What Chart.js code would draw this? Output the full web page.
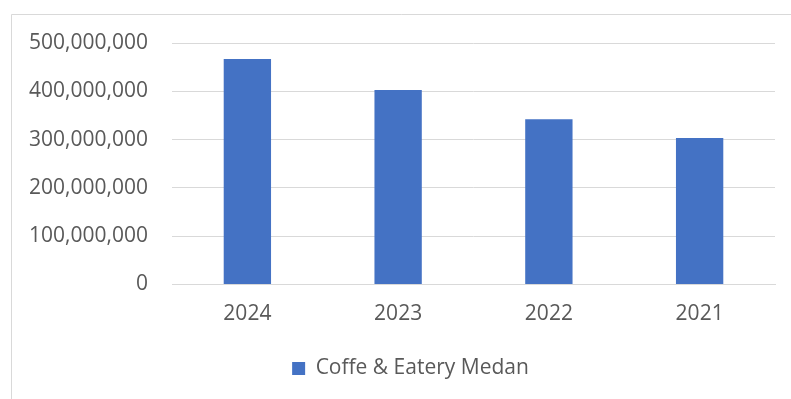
<!DOCTYPE html>
<html>
<head>
<meta charset="utf-8">
<script src="https://cdn.jsdelivr.net/npm/chart.js@4/dist/chart.umd.min.js"></script>
<style>
  html, body { margin: 0; padding: 0; background: #ffffff; }
  #wrap { position: relative; width: 791px; height: 399px; }
</style>
</head>
<body>
<div id="wrap"><canvas id="c" width="791" height="399"></canvas></div>
<script>
const categories = ["2024", "2023", "2022", "2021"];
const seriesName = "Coffe & Eatery Medan";
const values = [467000000, 402500000, 342000000, 303500000];
const yTicks = [0, 100000000, 200000000, 300000000, 400000000, 500000000];

const FONT = "'Open Sans', 'Noto Sans', sans-serif";

const frame = {
  id: 'frame',
  beforeDraw(chart) {
    const ctx = chart.ctx;
    ctx.save();
    ctx.fillStyle = '#ffffff';
    ctx.fillRect(0, 0, chart.width, chart.height);
    ctx.strokeStyle = '#d9d9d9';
    ctx.lineWidth = 1;
    ctx.beginPath();
    ctx.moveTo(11.5, chart.height);
    ctx.lineTo(11.5, 14.5);
    ctx.lineTo(chart.width, 14.5);
    ctx.stroke();
    ctx.restore();
  }
};

const legendShift = {
  id: 'legendShift',
  afterLayout(chart) {
    if (chart.legend) { chart.legend.left += 46; }
  }
};

new Chart(document.getElementById('c'), {
  type: 'bar',
  data: {
    labels: categories,
    datasets: [{
      label: seriesName,
      data: values,
      backgroundColor: '#4472C4',
      borderWidth: 0,
      categoryPercentage: 1,
      barPercentage: 0.314
    }]
  },
  options: {
    responsive: false,
    animation: false,
    devicePixelRatio: 1,
    layout: { padding: { top: 43, left: 0, right: 16, bottom: 10 } },
    plugins: {
      legend: {
        position: 'bottom',
        labels: {
          boxWidth: 13,
          boxHeight: 13,
          padding: 10,
          color: '#595959',
          font: { family: FONT, size: 21 }
        }
      },
      tooltip: { enabled: false }
    },
    scales: {
      x: {
        grid: { display: false, drawTicks: false },
        border: { display: true, color: '#d9d9d9', width: 1 },
        ticks: { color: '#595959', padding: 17, font: { family: FONT, size: 21 } },
        afterFit(scale) { scale.height = 63.5; }
      },
      y: {
        min: 0,
        max: 500000000,
        afterBuildTicks(scale) { scale.ticks = yTicks.map(v => ({ value: v })); },
        grid: { color: '#d9d9d9', lineWidth: 1, drawTicks: false },
        border: { display: false },
        ticks: {
          color: '#595959',
          padding: 24,
          font: { family: FONT, size: 21 },
          callback: (v) => Number(v).toLocaleString('en-US')
        },
        afterFit(scale) { scale.width = 172; }
      }
    }
  },
  plugins: [frame, legendShift]
});
</script>
</body>
</html>
